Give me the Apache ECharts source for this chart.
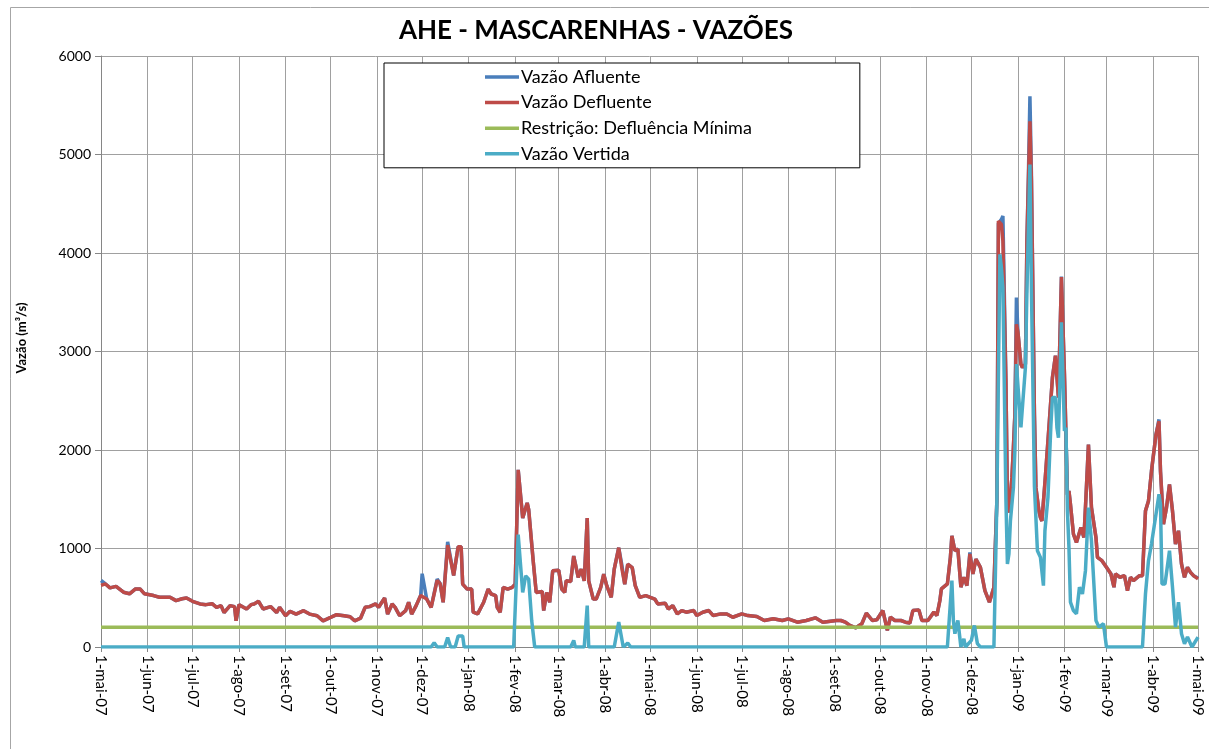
<!DOCTYPE html>
<html>
<head>
<meta charset="utf-8">
<script src="https://cdn.jsdelivr.net/npm/echarts@6/dist/echarts.min.js"></script>
<style>
html,body{margin:0;padding:0;background:#fff;}
#chart{width:1209px;height:749px;}
</style>
</head>
<body>
<div id="chart"></div>
<script>
// Month tick labels and their day offsets from 1-mai-07
const monthLabels = ['1-mai-07','1-jun-07','1-jul-07','1-ago-07','1-set-07','1-out-07','1-nov-07','1-dez-07','1-jan-08','1-fev-08','1-mar-08','1-abr-08','1-mai-08','1-jun-08','1-jul-08','1-ago-08','1-set-08','1-out-08','1-nov-08','1-dez-08','1-jan-09','1-fev-09','1-mar-09','1-abr-09','1-mai-09'];
const monthDays = [0,31,61,92,123,153,184,214,245,276,305,336,366,397,427,458,489,519,550,580,611,642,670,701,731];
const yTicks = [0,1000,2000,3000,4000,5000,6000];

// [day since 1-mai-07, m3/s]
const defluente = [[0,625],[3,640],[6,600],[10,615],[15,556],[19,540],[23,590],[26,590],[29,540],[35,522],[39,505],[46,505],[50,471],[54,490],[57,498],[61,464],[66,437],[70,430],[74,440],[77,403],[80,420],[82,350],[86,420],[89,410],[90,266],[92,430],[97,386],[100,430],[102,437],[105,464],[108,386],[113,410],[117,350],[119,403],[123,317],[126,362],[130,334],[135,369],[139,334],[144,317],[148,266],[153,300],[157,328],[162,317],[166,307],[169,266],[173,294],[176,403],[179,410],[183,437],[185,403],[189,498],[191,334],[194,437],[196,403],[199,317],[203,369],[205,454],[207,334],[210,420],[213,522],[214,530],[217,488],[220,403],[224,676],[226,642],[228,454],[231,1034],[235,727],[238,1017],[240,1017],[241,638],[244,588],[247,588],[248,353],[251,336],[255,454],[258,588],[260,538],[263,521],[264,403],[266,353],[268,605],[271,588],[274,605],[276,638],[278,1798],[281,1310],[284,1462],[285,1394],[288,874],[290,554],[294,564],[295,370],[297,554],[299,454],[301,773],[305,780],[307,588],[309,554],[310,672],[313,665],[315,924],[318,706],[320,790],[322,672],[324,1310],[325,672],[328,487],[330,487],[333,605],[335,739],[337,622],[340,504],[342,790],[345,1008],[347,806],[349,638],[351,840],[354,806],[356,622],[359,504],[363,521],[366,504],[369,487],[371,437],[376,444],[378,386],[381,420],[384,336],[387,370],[390,353],[395,370],[397,319],[401,353],[405,370],[408,319],[413,336],[417,336],[421,302],[427,336],[431,319],[437,309],[442,269],[448,286],[454,269],[458,286],[464,252],[470,269],[476,296],[481,252],[490,269],[493,269],[496,252],[499,219],[503,195],[507,236],[510,344],[514,269],[517,276],[521,370],[524,168],[526,303],[529,269],[533,269],[536,252],[539,243],[541,370],[545,377],[547,269],[551,269],[555,354],[557,320],[559,472],[560,590],[564,640],[566,910],[567,1129],[569,977],[571,994],[573,607],[575,708],[577,623],[579,944],[581,741],[583,893],[586,809],[589,573],[592,455],[595,607],[597,1500],[598,4324],[600,4290],[601,4122],[603,2700],[604,1500],[605,1365],[607,1719],[608,2027],[609,2365],[610,3277],[611,3200],[613,2872],[614,2838],[616,2872],[617,4122],[618,4730],[619,5338],[620,4730],[622,2365],[623,1618],[625,1382],[626,1314],[627,1280],[629,1668],[630,1650],[632,2300],[634,2736],[636,2957],[638,2532],[640,3755],[642,2770],[643,2770],[644,1547],[645,1584],[646,1449],[648,1146],[650,1061],[653,1213],[655,1112],[656,1415],[658,2055],[660,1415],[663,1112],[664,910],[667,876],[670,809],[673,741],[675,607],[676,741],[679,708],[682,724],[684,573],[686,708],[688,674],[692,724],[694,724],[696,1382],[698,1483],[700,1786],[703,2157],[705,2292],[706,1786],[708,1247],[710,1415],[712,1651],[714,1382],[716,1045],[718,1180],[720,843],[722,708],[724,809],[726,758],[728,724],[731,691]];

const afluente = [[0,675],[3,640],[6,600],[10,615],[15,556],[19,540],[23,590],[26,590],[29,540],[35,522],[39,505],[46,505],[50,471],[54,490],[57,498],[61,464],[66,437],[70,430],[74,440],[77,403],[80,420],[82,350],[86,420],[89,410],[90,266],[92,430],[97,386],[100,430],[102,437],[105,464],[108,386],[113,410],[117,350],[119,403],[123,317],[126,362],[130,334],[135,369],[139,334],[144,317],[148,266],[153,300],[157,328],[162,317],[166,307],[169,266],[173,294],[176,403],[179,410],[183,437],[185,403],[189,498],[191,334],[194,437],[196,403],[199,317],[203,369],[205,454],[207,334],[210,420],[213,522],[214,744],[217,488],[220,403],[224,690],[226,642],[228,454],[231,1068],[235,727],[238,1017],[240,1017],[241,638],[244,588],[247,588],[248,353],[251,336],[255,454],[258,588],[260,538],[263,521],[264,403],[266,353],[268,605],[271,588],[274,605],[276,638],[278,1798],[281,1310],[284,1462],[285,1394],[288,874],[290,554],[294,564],[295,370],[297,554],[299,454],[301,773],[305,780],[307,588],[309,554],[310,672],[313,665],[315,924],[318,706],[320,790],[322,672],[324,1310],[325,672],[328,487],[330,487],[333,605],[335,739],[337,622],[340,504],[342,790],[345,1008],[347,840],[349,638],[351,840],[354,806],[356,622],[359,504],[363,521],[366,504],[369,487],[371,437],[376,444],[378,386],[381,420],[384,336],[387,370],[390,353],[395,370],[397,319],[401,353],[405,370],[408,319],[413,336],[417,336],[421,302],[427,336],[431,319],[437,309],[442,269],[448,286],[454,269],[458,286],[464,252],[470,269],[476,296],[481,252],[490,269],[493,269],[496,252],[499,219],[503,195],[507,236],[510,344],[514,269],[517,276],[521,370],[524,168],[526,303],[529,269],[533,269],[536,252],[539,243],[541,370],[545,377],[547,269],[551,269],[555,354],[557,320],[559,472],[560,590],[564,640],[566,910],[567,1129],[569,977],[571,994],[573,607],[575,708],[577,623],[579,960],[581,741],[583,893],[586,809],[589,573],[592,455],[595,607],[597,1500],[598,4300],[600,4341],[601,4375],[603,2700],[604,1500],[605,1365],[607,1719],[608,2027],[609,2365],[610,3548],[611,3200],[613,2872],[614,2838],[616,2872],[617,4122],[618,4800],[619,5590],[620,4800],[622,2365],[623,1618],[625,1382],[626,1314],[627,1280],[629,1668],[630,1650],[632,2300],[634,2736],[636,2957],[638,2532],[640,3760],[642,2770],[643,2770],[644,1547],[645,1584],[646,1449],[648,1146],[650,1061],[653,1213],[655,1112],[656,1415],[658,2055],[660,1415],[663,1112],[664,910],[667,876],[670,809],[673,741],[675,607],[676,741],[679,708],[682,724],[684,573],[686,708],[688,674],[692,724],[694,724],[696,1382],[698,1483],[700,1786],[703,2157],[705,2310],[706,1786],[708,1247],[710,1415],[712,1651],[714,1382],[716,1045],[718,1180],[720,843],[722,708],[724,809],[726,758],[728,724],[731,700]];

const restricao = [[0,200],[731,200]];

const vertida = [[0,0],[220,0],[222,44],[224,0],[229,0],[231,95],[233,0],[236,0],[238,112],[241,112],[242,0],[275,0],[278,1142],[281,554],[283,722],[285,689],[287,269],[289,0],[313,0],[315,67],[316,0],[322,0],[324,420],[325,0],[342,0],[345,252],[348,0],[351,40],[353,0],[564,0],[567,674],[568,269],[569,135],[571,269],[573,0],[575,84],[576,0],[580,67],[582,219],[584,34],[586,0],[595,0],[597,1500],[599,3986],[600,3851],[601,3649],[603,1500],[604,843],[605,944],[606,1281],[608,1618],[609,2000],[610,2872],[611,2872],[613,2230],[614,2230],[616,2838],[617,3615],[619,4899],[620,3649],[622,1634],[624,977],[626,910],[628,623],[629,1180],[631,1517],[633,2261],[634,2533],[636,2533],[637,2227],[638,2125],[640,3297],[642,2193],[643,2227],[644,1378],[645,1011],[646,455],[648,370],[650,337],[652,607],[654,539],[656,775],[658,1415],[660,1078],[663,269],[665,202],[668,236],[670,0],[694,0],[696,539],[698,876],[700,1045],[703,1348],[705,1550],[706,1449],[707,640],[709,640],[712,977],[714,607],[716,202],[718,455],[720,135],[722,34],[724,101],[727,0],[731,101]];

const FONT = 'Lato';
const chart = echarts.init(document.getElementById('chart'), null, {renderer: 'canvas'});

function lineSeries(name, data, color) {
  return {
    name: name, type: 'line', data: data, symbol: 'none', smooth: false,
    lineStyle: {color: color, width: 3.5}, itemStyle: {color: color},
    emphasis: {disabled: true}
  };
}

chart.setOption({
  animation: false,
  backgroundColor: '#ffffff',
  title: {
    text: 'AHE - MASCARENHAS - VAZÕES',
    left: 591, top: 13, textAlign: 'center',
    textStyle: {fontFamily: FONT, fontSize: 26, fontWeight: 'bold', color: '#000'}
  },
  graphic: [
    {type: 'rect', left: 8, top: 5, shape: {width: 1215, height: 760}, style: {fill: 'none', stroke: '#a6a6a6', lineWidth: 1}, silent: true, z: -1},
    {type: 'text', x: 22, y: 338, rotation: Math.PI / 2, style: {text: 'Vazão (m³/s)', font: 'bold 13px ' + FONT, fill: '#000', textAlign: 'center', textVerticalAlign: 'middle'}, silent: true}
  ],
  legend: {
    orient: 'vertical', left: 384, top: 63,
    padding: [5, 108, 5, 101],
    icon: 'rect',
    itemWidth: 34, itemHeight: 3.5, itemGap: 7.6,
    backgroundColor: '#fff', borderColor: '#000', borderWidth: 1,
    textStyle: {fontFamily: FONT, fontSize: 18, lineHeight: 18, color: '#000', padding: [0, 0, 0, -3]},
    data: ['Vazão Afluente', 'Vazão Defluente', 'Restrição: Defluência Mínima', 'Vazão Vertida']
  },
  grid: {left: 101, right: 11, top: 56, bottom: 102, containLabel: false},
  xAxis: {
    type: 'value', min: 0, max: 731,
    axisLine: {show: true, lineStyle: {color: '#868686', width: 1}},
    axisTick: {show: true, length: 5, inside: false, customValues: monthDays, lineStyle: {color: '#868686'}},
    axisLabel: {
      customValues: monthDays, rotate: -90, margin: 8,
      fontFamily: FONT, fontSize: 15, color: '#000',
      formatter: function (v) { const i = monthDays.indexOf(v); return i >= 0 ? monthLabels[i] : ''; }
    },
    splitLine: {show: true, lineStyle: {color: '#a0a0a0', width: 1}}
  },
  yAxis: {
    type: 'value', min: 0, max: 6000, interval: 1000,
    axisLine: {show: true, lineStyle: {color: '#868686', width: 1}},
    axisTick: {show: true, length: 6, lineStyle: {color: '#868686'}},
    axisLabel: {fontFamily: FONT, fontSize: 14, color: '#000', margin: 10,
      formatter: function (v) { return yTicks.indexOf(v) >= 0 ? String(v) : ''; }},
    splitLine: {show: true, lineStyle: {color: '#a0a0a0', width: 1}}
  },
  series: [
    lineSeries('Vazão Afluente', afluente, '#4A7EBB'),
    lineSeries('Vazão Defluente', defluente, '#BE4B48'),
    lineSeries('Restrição: Defluência Mínima', restricao, '#9BBB59'),
    lineSeries('Vazão Vertida', vertida, '#4BACC6')
  ]
});
</script>
</body>
</html>
